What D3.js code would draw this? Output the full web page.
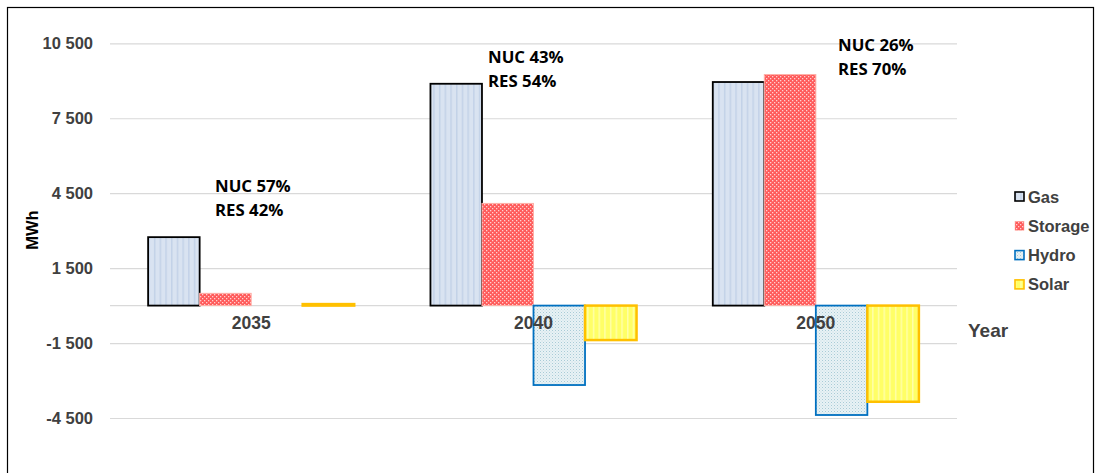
<!DOCTYPE html>
<html><head><meta charset="utf-8">
<script src="https://cdn.jsdelivr.net/npm/d3@7"></script>
<style>
body{margin:0;background:#fff;}
svg{display:block;}
</style></head>
<body>
<svg id="chart" width="1095" height="473"></svg>
<script>
const categories = ["2035", "2040", "2050"];
const seriesNames = ["Gas", "Storage", "Hydro", "Solar"];
const gasValues = [2740, 8880, 8950];
const storageValues = [490, 4090, 9250];
const hydroValues = [0, -3180, -4380];
const solarValues = [60, -1380, -3850];
const yTicks = [10500, 7500, 4500, 1500, -1500, -4500];
const annotations = [["NUC 57%", "RES 42%"], ["NUC 43%", "RES 54%"], ["NUC 26%", "RES 70%"]];

const seriesValues = [gasValues, storageValues, hydroValues, solarValues];

const svg = d3.select("#chart");
const defs = svg.append("defs");

function stripePattern(id, base, stripe, w) {
  const p = defs.append("pattern").attr("id", id).attr("patternUnits", "userSpaceOnUse")
    .attr("width", w).attr("height", 4);
  p.append("rect").attr("width", w).attr("height", 4).attr("fill", base);
  p.append("rect").attr("x", 0).attr("width", 1.5).attr("height", 4).attr("fill", stripe);
}
stripePattern("pGas", "#D9E3F1", "#C3D2E8", 5.7);
stripePattern("pSolar", "#FFFF66", "#FFFFA8", 5.7);
(function(){
  const p = defs.append("pattern").attr("id", "pStorage").attr("patternUnits", "userSpaceOnUse")
    .attr("width", 4).attr("height", 4);
  p.append("rect").attr("width", 4).attr("height", 4).attr("fill", "#FF5A5A");
  p.append("rect").attr("x", 0).attr("y", 0).attr("width", 1.3).attr("height", 1.3).attr("fill", "#FFD0D0");
  p.append("rect").attr("x", 2).attr("y", 2).attr("width", 1.3).attr("height", 1.3).attr("fill", "#FFD0D0");
  const q = defs.append("pattern").attr("id", "pHydro").attr("patternUnits", "userSpaceOnUse")
    .attr("width", 3).attr("height", 3);
  q.append("rect").attr("width", 3).attr("height", 3).attr("fill", "#E8F2F5");
  q.append("rect").attr("x", 0).attr("y", 0).attr("width", 1).attr("height", 1).attr("fill", "#A9CBD6");
  q.append("rect").attr("x", 1.5).attr("y", 1.5).attr("width", 1).attr("height", 1).attr("fill", "#C4DCE4");
})();

const fills = ["url(#pGas)", "url(#pStorage)", "url(#pHydro)", "url(#pSolar)"];
const strokes = ["#000000", "#FFB0A8", "#0070C0", "#FFC000"];
const strokeW = [1.8, 1, 1.8, 2.5];
const FONT = "Liberation Sans, Arial, sans-serif";

svg.append("rect").attr("x", 7.5).attr("y", 7.5).attr("width", 1086).attr("height", 500)
  .attr("fill", "none").attr("stroke", "#000").attr("stroke-width", 1.2);

const x0 = d3.scaleBand().domain(categories).range([110, 957]).paddingInner(0.27).paddingOuter(0.135);
const x1 = d3.scaleBand().domain(seriesNames).range([0, x0.bandwidth()]).padding(0);
const y = d3.scaleLinear().domain([-4500, 10500]).range([418, 43.3]);

const locale = d3.formatLocale({decimal: ".", thousands: "\u00a0", grouping: [3], currency: ["", ""], minus: "-"});
const fmt = locale.format(",d");

const yAxis = d3.axisLeft(y).tickValues(yTicks).tickSize(-(957 - 110)).tickFormat(fmt).tickPadding(17);
const gy = svg.append("g").attr("transform", "translate(110,0)").call(yAxis);
gy.select(".domain").remove();
gy.selectAll(".tick line").attr("stroke", "#D9D9D9").attr("stroke-width", 1.2);
gy.selectAll(".tick text").attr("fill", "#404040").attr("font-family", FONT)
  .attr("font-weight", "bold").attr("font-size", 16.5);

svg.append("line").attr("x1", 110).attr("x2", 957).attr("y1", y(0)).attr("y2", y(0))
  .attr("stroke", "#D9D9D9").attr("stroke-width", 1.2);

const xAxis = d3.axisBottom(x0).tickSize(0).tickPadding(11);
const gx = svg.append("g").attr("transform", `translate(0,${y(0)})`).call(xAxis);
gx.select(".domain").remove();

seriesNames.forEach((s, si) => {
  const g = svg.append("g");
  g.selectAll("rect").data(categories.map((c, ci) => ({c, v: seriesValues[si][ci]})).filter(d => d.v !== 0))
    .join("rect")
    .attr("x", d => x0(d.c) + x1(s))
    .attr("width", x1.bandwidth())
    .attr("y", d => Math.min(y(d.v), y(0)))
    .attr("height", d => Math.abs(y(d.v) - y(0)))
    .attr("fill", fills[si])
    .attr("stroke", strokes[si])
    .attr("stroke-width", strokeW[si]);
});

gx.raise();
gx.selectAll(".tick text").attr("fill", "#404040").attr("font-family", FONT)
  .attr("font-weight", "bold").attr("font-size", 17.5);

const annPos = [[215, 192], [488, 63], [838, 51]];
annotations.forEach((lines, i) => {
  lines.forEach((t, li) => {
    svg.append("text").attr("x", annPos[i][0]).attr("y", annPos[i][1] + li * 24)
      .attr("font-family", "Open Sans, Noto Sans, sans-serif").attr("font-weight", "bold")
      .attr("font-size", 16.8).attr("fill", "#000").text(t);
  });
});

svg.append("text").attr("transform", "translate(38,230) rotate(-90)")
  .attr("text-anchor", "middle").attr("font-family", FONT)
  .attr("font-weight", "bold").attr("font-size", 16.5).attr("fill", "#000").text("MWh");

svg.append("text").attr("x", 968).attr("y", 337)
  .attr("font-family", FONT).attr("font-weight", "bold")
  .attr("font-size", 19).attr("fill", "#404040").text("Year");

const legend = svg.append("g");
seriesNames.forEach((s, i) => {
  const ly = 197 + i * 29.3;
  legend.append("rect").attr("x", 1015).attr("y", ly - 5).attr("width", 9).attr("height", 9)
    .attr("fill", fills[i]).attr("stroke", strokes[i]).attr("stroke-width", i === 1 ? 0.5 : 1.6);
  legend.append("text").attr("x", 1028).attr("y", ly + 5.5)
    .attr("font-family", FONT).attr("font-weight", "bold")
    .attr("font-size", 16.5).attr("fill", "#404040").text(s);
});
</script>
</body></html>
